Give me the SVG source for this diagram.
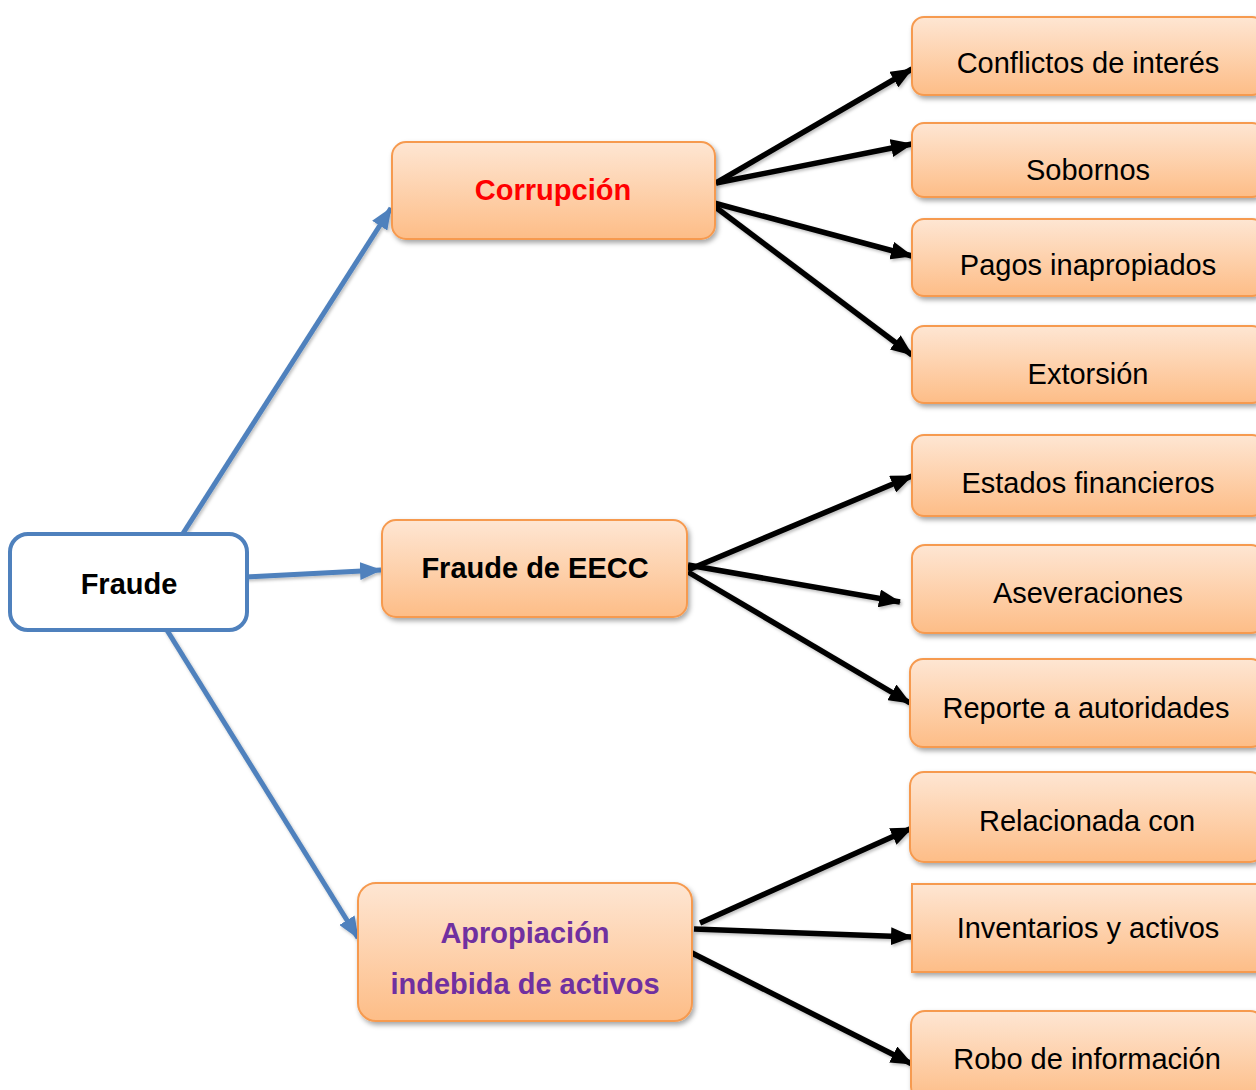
<svg xmlns="http://www.w3.org/2000/svg" width="1256" height="1090" viewBox="0 0 1256 1090">
<defs>
  <linearGradient id="og" x1="0" y1="0" x2="0" y2="1">
    <stop offset="0" stop-color="#FEE6D3"/>
    <stop offset="1" stop-color="#FDBD87"/>
  </linearGradient>
  <filter id="sh" x="-10%" y="-10%" width="130%" height="140%">
    <feDropShadow dx="2" dy="3" stdDeviation="2.5" flood-color="#000" flood-opacity="0.35"/>
  </filter>
  <filter id="lsh" x="-10%" y="-10%" width="130%" height="130%">
    <feDropShadow dx="1.5" dy="2" stdDeviation="1.5" flood-color="#000" flood-opacity="0.25"/>
  </filter>
  <marker id="ab" viewBox="0 0 22 18" refX="21" refY="9" markerWidth="22" markerHeight="18" markerUnits="userSpaceOnUse" orient="auto">
    <path d="M0,0 L22,9 L0,18 Z" fill="#000"/>
  </marker>
  <marker id="au" viewBox="0 0 22 18" refX="21" refY="9" markerWidth="22" markerHeight="18" markerUnits="userSpaceOnUse" orient="auto">
    <path d="M0,0 L22,9 L0,18 Z" fill="#4F81BD"/>
  </marker>
</defs>
<style>
  .box { fill: url(#og); stroke: #F69A4F; stroke-width: 2; filter: url(#sh); }
  .t { font-family: "Liberation Sans", Arial, sans-serif; font-size: 29px; text-anchor: middle; fill: #000; }
  .b { font-weight: bold; }
  .blk { stroke: #000; stroke-width: 5.5; fill: none; marker-end: url(#ab); }
  .blu { stroke: #4F81BD; stroke-width: 5; fill: none; marker-end: url(#au); }
</style>
<rect width="1256" height="1090" fill="#fff"/>

<g id="connectors" filter="url(#lsh)">
  <line class="blu" x1="182" y1="535" x2="391" y2="208"/>
  <line class="blu" x1="245" y1="577" x2="381" y2="570"/>
  <line class="blu" x1="165" y1="627" x2="358" y2="938"/>

  <line class="blk" x1="716" y1="183" x2="912" y2="69"/>
  <line class="blk" x1="716" y1="183" x2="912" y2="144"/>
  <line class="blk" x1="714" y1="203" x2="912" y2="256"/>
  <line class="blk" x1="714" y1="206" x2="912" y2="355"/>

  <line class="blk" x1="688" y1="570" x2="912" y2="476"/>
  <line class="blk" x1="688" y1="565" x2="900" y2="602"/>
  <line class="blk" x1="688" y1="572" x2="910" y2="703"/>

  <line class="blk" x1="700" y1="923" x2="912" y2="828"/>
  <line class="blk" x1="694" y1="929" x2="912" y2="937"/>
  <line class="blk" x1="688" y1="951" x2="912" y2="1064"/>
</g>

<g id="fraude">
  <rect x="10" y="534" width="237" height="96" rx="18" fill="#fff" stroke="#4F81BD" stroke-width="4"/>
  <text class="t b" x="129" y="594">Fraude</text>
</g>

<g id="corrupcion">
  <rect class="box" x="392" y="142" width="323" height="97" rx="14"/>
  <text class="t b" x="553" y="200" style="fill:#FF0000">Corrupción</text>
</g>

<g id="fraude-eecc">
  <rect class="box" x="382" y="520" width="305" height="97" rx="14"/>
  <text class="t b" x="535" y="578">Fraude de EECC</text>
</g>

<g id="apropiacion">
  <rect class="box" x="358" y="883" width="334" height="138" rx="18"/>
  <text class="t b" x="525" y="943" style="fill:#7030A0">Apropiación</text>
  <text class="t b" x="525" y="994" style="fill:#7030A0">indebida de activos</text>
</g>

<g id="conflictos">
  <rect class="box" x="912" y="17" width="352" height="78" rx="12"/>
  <text class="t" x="1088" y="73">Conflictos de interés</text>
</g>
<g id="sobornos">
  <rect class="box" x="912" y="123" width="352" height="74" rx="12"/>
  <text class="t" x="1088" y="180">Sobornos</text>
</g>
<g id="pagos">
  <rect class="box" x="912" y="219" width="352" height="77" rx="12"/>
  <text class="t" x="1088" y="275">Pagos inapropiados</text>
</g>
<g id="extorsion">
  <rect class="box" x="912" y="326" width="352" height="77" rx="12"/>
  <text class="t" x="1088" y="384">Extorsión</text>
</g>
<g id="estados">
  <rect class="box" x="912" y="435" width="352" height="81" rx="12"/>
  <text class="t" x="1088" y="493">Estados financieros</text>
</g>
<g id="aseveraciones">
  <rect class="box" x="912" y="545" width="352" height="88" rx="13"/>
  <text class="t" x="1088" y="603">Aseveraciones</text>
</g>
<g id="reporte">
  <rect class="box" x="910" y="659" width="354" height="88" rx="13"/>
  <text class="t" x="1086" y="718">Reporte a autoridades</text>
</g>
<g id="relacionada">
  <rect class="box" x="910" y="772" width="354" height="90" rx="14"/>
  <text class="t" x="1087" y="831">Relacionada con</text>
</g>
<g id="inventarios">
  <rect class="box" x="912" y="884" width="352" height="88" rx="0"/>
  <text class="t" x="1088" y="938">Inventarios y activos</text>
</g>
<g id="robo">
  <rect class="box" x="911" y="1011" width="353" height="90" rx="14"/>
  <text class="t" x="1087" y="1069">Robo de información</text>
</g>
</svg>
